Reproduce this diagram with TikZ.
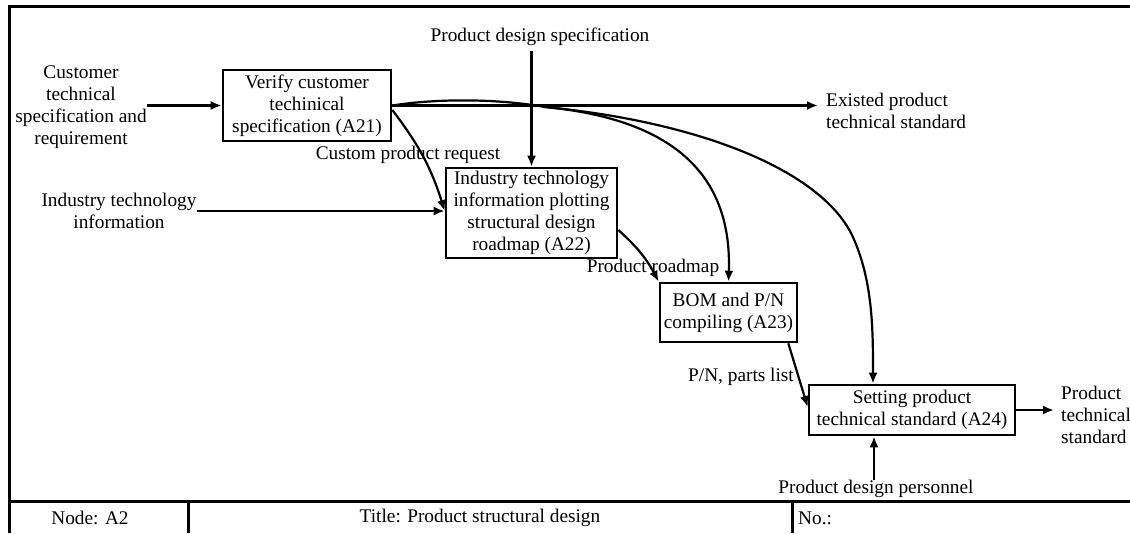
\documentclass[tikz,border=0pt]{standalone}
\usepackage{fontspec}
\setmainfont{Liberation Serif}
\usetikzlibrary{arrows.meta}
\begin{document}
\begin{tikzpicture}[x=1pt,y=-1pt,
  every node/.style={font=\fontsize{19.3}{22}\selectfont, inner sep=0pt, align=center},
  actbox/.style={draw, line width=2.6pt},
  wire/.style={line width=2.2pt},
  flow/.style={wire, -{Latex[length=11pt,width=9pt]}},
  framerule/.style={line width=3pt}]
\useasboundingbox (0,0) rectangle (1130,533);

% outer frame and title band
\draw[framerule] (1130,6) -- (9,6) -- (9,533);
\draw[framerule] (9,501) -- (1130,501);
\draw[framerule] (188,501) -- (188,533);
\draw[framerule] (792,501) -- (792,533);
\node (nd) at (90,518) {Node: A2};
\node (tt) at (480,518) {Title: Product structural design};
\node[anchor=west] (no) at (798,518) {No.:};

% activity boxes
\node[actbox, minimum width=168pt, minimum height=71pt] (A21) at (307,105.5)
  {Verify customer\\techinical\\specification (A21)};
\node[actbox, minimum width=171pt, minimum height=90pt] (A22) at (531.5,213)
  {Industry technology\\information plotting\\structural design\\roadmap (A22)};
\node[actbox, minimum width=137pt, minimum height=59pt] (A23) at (728.5,312.5)
  {BOM and P/N\\compiling (A23)};
\node[actbox, minimum width=206pt, minimum height=50pt] (A24) at (912,410)
  {Setting product\\technical standard (A24)};

% boundary texts
\node (cust) at (81,107) {Customer\\technical\\specification and\\requirement};
\node (ind) at (119,211) {Industry technology\\information};
\node (pds) at (540,37) {Product design specification};
\node (pdp) at (876,489) {Product design personnel};
\node[anchor=west, align=left] (ex) at (826,111) {Existed product\\technical standard};
\node[anchor=west, align=left] (pts) at (1061,415) {Product\\technical\\standard};

% arrow labels
\node (lcpr) at (408,155) {Custom product request};
\node (lpr) at (653,268) {Product roadmap};
\node (lpn) at (741,377) {P/N, parts list};

% junction and entry points
\coordinate (j) at (545,107);
\coordinate (stdin) at ([xshift=-39pt]A24.north);
\coordinate (mechin) at ([xshift=-38pt]A24.south);

% inputs
\draw[flow] (cust.east |- A21.west) -- (A21.west);
\draw[flow] (ind.east) -- (ind.east -| A22.west);
% control and mechanism
\draw[flow] (A22.north |- pds.south) ++(0,5) -- (A22.north);
\draw[flow] (pdp.north -| mechin) -- (mechin);

% outputs of A21
\draw[flow, shorten >=8pt] (A21.east) -- (A21.east -| ex.west);
\draw[wire] (A21.east) .. controls (440,98) and (500,99) .. (j);
\draw[flow] (j) .. controls (680,120) and (732,180) .. (A23.north);
\draw[flow] (j) .. controls (700,122) and (820,170) .. (852,235)
  .. controls (873,280) and (873,330) .. (stdin);
\draw[flow] ([yshift=-4.5pt]A21.east) to[bend left=10] ([yshift=2pt]A22.west);

% chain A22 -> A23 -> A24
\draw[flow] ([yshift=-17pt]A22.east) to[bend left=10] (A23.north west);
\draw[flow] ([xshift=-10pt]A23.south east) -- ([yshift=3pt]A24.west);

% final output
\draw[flow, shorten >=7pt] (A24.east) -- (A24.east -| pts.west);
\end{tikzpicture}
\end{document}
